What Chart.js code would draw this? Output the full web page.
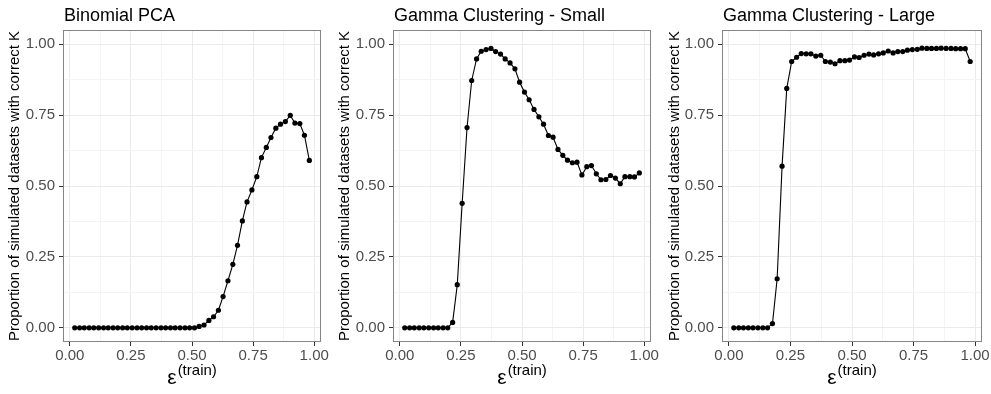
<!DOCTYPE html>
<html>
<head>
<meta charset="utf-8">
<script src="https://cdn.jsdelivr.net/npm/chart.js@4.4.1/dist/chart.umd.min.js"></script>
<style>
    html, body { margin: 0; padding: 0; background: #fff; }
    #wrap { position: relative; width: 991px; height: 394px; overflow: hidden; }
    .panel { position: absolute; top: 0; height: 394px; }
</style>
</head>
<body>
<div id="wrap">
    <div class="panel" style="left:0;width:330px"><canvas id="c1"></canvas></div>
    <div class="panel" style="left:330px;width:330px"><canvas id="c2"></canvas></div>
    <div class="panel" style="left:660px;width:331px"><canvas id="c3"></canvas></div>
</div>
<script>
// epsilon^(train) values shared by all three panels
const eps = [
    0.020, 0.040, 0.059, 0.079, 0.098, 0.118, 0.138, 0.157, 0.177, 0.196,
    0.216, 0.235, 0.255, 0.275, 0.294, 0.314, 0.333, 0.353, 0.373, 0.392,
    0.412, 0.431, 0.451, 0.471, 0.490, 0.510, 0.529, 0.549, 0.569, 0.588,
    0.608, 0.627, 0.647, 0.667, 0.686, 0.706, 0.725, 0.745, 0.765, 0.784,
    0.804, 0.823, 0.843, 0.862, 0.882, 0.902, 0.921, 0.941, 0.960, 0.980
];

const binomialPCA = [
    0, 0, 0, 0, 0, 0, 0, 0, 0, 0,
    0, 0, 0, 0, 0, 0, 0, 0, 0, 0,
    0, 0, 0, 0, 0, 0, 0.005, 0.010, 0.026, 0.039,
    0.062, 0.110, 0.166, 0.224, 0.291, 0.377, 0.444, 0.486, 0.533, 0.600,
    0.636, 0.671, 0.704, 0.718, 0.727, 0.749, 0.722, 0.720, 0.679, 0.590
];

const gammaSmall = [
    0, 0, 0, 0, 0, 0, 0, 0, 0, 0,
    0.019, 0.152, 0.439, 0.706, 0.872, 0.948, 0.975, 0.981, 0.985, 0.974,
    0.965, 0.948, 0.934, 0.913, 0.866, 0.831, 0.804, 0.770, 0.744, 0.718,
    0.678, 0.672, 0.629, 0.608, 0.591, 0.582, 0.584, 0.539, 0.568, 0.572,
    0.543, 0.522, 0.523, 0.537, 0.528, 0.508, 0.533, 0.533, 0.532, 0.546
];

const gammaLarge = [
    0, 0, 0, 0, 0, 0, 0, 0, 0.015, 0.173,
    0.570, 0.844, 0.939, 0.954, 0.967, 0.966, 0.966, 0.958, 0.961, 0.939,
    0.937, 0.931, 0.942, 0.942, 0.944, 0.955, 0.953, 0.961, 0.965, 0.962,
    0.966, 0.969, 0.976, 0.969, 0.974, 0.974, 0.979, 0.981, 0.982, 0.986,
    0.985, 0.985, 0.985, 0.986, 0.985, 0.985, 0.984, 0.984, 0.984, 0.939
];

const panelTitles = ['Binomial PCA', 'Gamma Clustering - Small', 'Gamma Clustering - Large'];
const majorTicks = [0, 0.25, 0.5, 0.75, 1];
const minorTicks = [0.125, 0.375, 0.625, 0.875];
const yTitle = 'Proportion of simulated datasets with correct K';

const FONT = "'Liberation Sans', Arial, Helvetica, sans-serif";

function isMajor(v) {
    return majorTicks.some(m => Math.abs(m - v) < 1e-9);
}

function setTicks(scale) {
    const all = majorTicks.concat(minorTicks).sort((a, b) => a - b);
    scale.ticks = all.map(v => ({ value: v }));
}

// ggplot-like panel border + title + superscript x label
const decorations = {
    id: 'decorations',
    afterDatasetsDraw(chart, args, opts) {
        const { ctx, chartArea: a } = chart;
        ctx.save();
        ctx.strokeStyle = '#858585';
        ctx.lineWidth = 1;
        ctx.strokeRect(Math.round(a.left) + 0.5, Math.round(a.top) + 0.5,
            Math.round(a.right - a.left) - 1, Math.round(a.bottom - a.top) - 1);
        ctx.restore();
    },
    afterDraw(chart, args, opts) {
        const { ctx, chartArea: a } = chart;
        ctx.save();
        ctx.fillStyle = '#000';
        ctx.textBaseline = 'alphabetic';
        ctx.textAlign = 'left';
        ctx.font = '18px ' + FONT;
        ctx.fillText(opts.title, a.left + 1, 21);

        // x axis title: epsilon with superscript (train)
        ctx.font = '21px ' + FONT;
        const wE = ctx.measureText('ε').width;
        ctx.font = '15px ' + FONT;
        const wT = ctx.measureText('(train)').width;
        const x0 = (a.left + a.right) / 2 - (wE + wT + 1) / 2;
        ctx.font = '21px ' + FONT;
        ctx.fillText('ε', x0, 384);
        ctx.font = '15px ' + FONT;
        ctx.fillText('(train)', x0 + wE + 1, 375);
        ctx.restore();
    }
};

function makePanel(id, title, values, leftEdge, rightPad) {
    const ctx = document.getElementById(id).getContext('2d');
    const points = eps.map((x, i) => ({ x: x, y: values[i] }));
    new Chart(ctx, {
        type: 'scatter',
        data: {
            datasets: [{
                data: points,
                showLine: true,
                borderColor: '#000',
                borderWidth: 1.1,
                backgroundColor: '#000',
                pointRadius: 2.6,
                pointBorderWidth: 0,
                pointHoverRadius: 2.6
            }]
        },
        plugins: [decorations],
        options: {
            responsive: true,
            maintainAspectRatio: false,
            animation: false,
            events: [],
            layout: {
                autoPadding: false,
                padding: { left: 0, right: rightPad, top: 30, bottom: 0 }
            },
            plugins: {
                legend: { display: false },
                tooltip: { enabled: false },
                decorations: { title: title }
            },
            scales: {
                x: {
                    type: 'linear',
                    min: -0.028,
                    max: 1.028,
                    afterBuildTicks: setTicks,
                    afterFit: s => { s.height = 52; },
                    border: { display: false },
                    grid: {
                        color: c => isMajor(c.tick.value) ? '#EBEBEB' : '#F4F4F4',
                        lineWidth: 1,
                        tickLength: 4,
                        tickColor: c => isMajor(c.tick.value) ? '#333333' : 'rgba(0,0,0,0)'
                    },
                    ticks: {
                        autoSkip: false,
                        maxRotation: 0,
                        padding: 1,
                        color: '#4D4D4D',
                        font: { family: FONT, size: 15 },
                        callback: v => isMajor(v) ? v.toFixed(2) : ''
                    }
                },
                y: {
                    type: 'linear',
                    min: -0.05,
                    max: 1.05,
                    afterBuildTicks: setTicks,
                    afterFit: s => { s.width = leftEdge; },
                    border: { display: false },
                    grid: {
                        color: c => isMajor(c.tick.value) ? '#EBEBEB' : '#F4F4F4',
                        lineWidth: 1,
                        tickLength: 4,
                        tickColor: c => isMajor(c.tick.value) ? '#333333' : 'rgba(0,0,0,0)'
                    },
                    ticks: {
                        autoSkip: false,
                        padding: 4,
                        color: '#4D4D4D',
                        font: { family: FONT, size: 15 },
                        callback: v => isMajor(v) ? v.toFixed(2) : ''
                    },
                    title: {
                        display: true,
                        text: yTitle,
                        color: '#000',
                        padding: { top: 6, bottom: 0 },
                        font: { family: FONT, size: 15 }
                    }
                }
            }
        }
    });
}

makePanel('c1', panelTitles[0], binomialPCA, 63, 7);
makePanel('c2', panelTitles[1], gammaSmall, 63, 7);
makePanel('c3', panelTitles[2], gammaLarge, 62, 9);
</script>
</body>
</html>
